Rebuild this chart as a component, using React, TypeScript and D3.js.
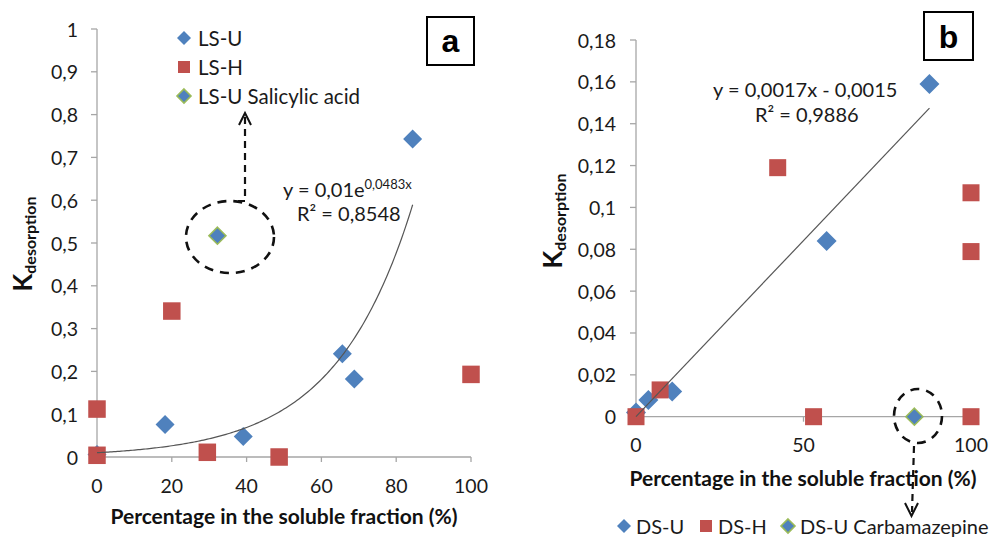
import React from "react";
import * as d3 from "d3";

// ---------- data ----------
const lsU = [
  { x: 0, y: 0.006 },
  { x: 18.2, y: 0.076 },
  { x: 39.1, y: 0.048 },
  { x: 65.6, y: 0.241 },
  { x: 68.8, y: 0.182 },
  { x: 84.4, y: 0.743 },
];
const lsH = [
  { x: 0, y: 0.112 },
  { x: 0, y: 0.004 },
  { x: 20, y: 0.341 },
  { x: 29.5, y: 0.011 },
  { x: 48.7, y: 0 },
  { x: 100, y: 0.193 },
];
const lsUSalicylic = [{ x: 32.2, y: 0.517 }];
const trendA = { a: 0.01, b: 0.0483, xMin: 0, xMax: 84.4 };

const dsU = [
  { x: 0, y: 0.002 },
  { x: 3.7, y: 0.008 },
  { x: 10.8, y: 0.012 },
  { x: 56.9, y: 0.084 },
  { x: 87.6, y: 0.159 },
];
const dsH = [
  { x: 0, y: 0 },
  { x: 7.2, y: 0.0128 },
  { x: 42.3, y: 0.119 },
  { x: 53, y: 0 },
  { x: 100, y: 0.107 },
  { x: 100, y: 0.0789 },
  { x: 100, y: 0 },
];
const dsUCarbamazepine = [{ x: 83.1, y: 0 }];
const trendB = { m: 0.0017, c: -0.0015, xMin: 0, xMax: 87.6 };

const yTicksA = [0, 0.1, 0.2, 0.3, 0.4, 0.5, 0.6, 0.7, 0.8, 0.9, 1];
const xTicksA = [0, 20, 40, 60, 80, 100];
const yTicksB = [0, 0.02, 0.04, 0.06, 0.08, 0.1, 0.12, 0.14, 0.16, 0.18];
const xTicksB = [0, 50, 100];

const legendA = ["LS-U", "LS-H", "LS-U Salicylic acid"];
const legendB = ["DS-U", "DS-H", "DS-U Carbamazepine"];

// ---------- style ----------
const BLUE = "#4F81BD";
const RED = "#C0504D";
const GREEN = "#9BBB59";
const AXIS = "#a6a6a6";
const FONT = "Lato, 'Open Sans', sans-serif";

const fmt = (v: number) => String(+v.toFixed(2)).replace(".", ",");

const Diamond = ({ cx, cy, r, stroke }: { cx: number; cy: number; r: number; stroke?: string }) => (
  <path
    d={`M${cx},${cy - r}L${cx + r},${cy}L${cx},${cy + r}L${cx - r},${cy}Z`}
    fill={BLUE}
    stroke={stroke || "none"}
    strokeWidth={stroke ? 1.6 : 0}
  />
);
const Square = ({ cx, cy, s }: { cx: number; cy: number; s: number }) => (
  <rect x={cx - s / 2} y={cy - s / 2} width={s} height={s} fill={RED} />
);

export default function App() {
  const xA = d3.scaleLinear().domain([0, 100]).range([97, 471]);
  const yA = d3.scaleLinear().domain([0, 1]).range([457, 29]);
  const xB = d3.scaleLinear().domain([0, 100]).range([636, 971]);
  const yB = d3.scaleLinear().domain([0, 0.18]).range([416.7, 40]);

  const trendAPts = d3.range(trendA.xMin, trendA.xMax + 0.001, 0.5).map((x) => [x, trendA.a * Math.exp(trendA.b * x)] as [number, number]);
  if (trendAPts[trendAPts.length - 1][0] < trendA.xMax) trendAPts.push([trendA.xMax, trendA.a * Math.exp(trendA.b * trendA.xMax)]);
  const lineA = d3.line<[number, number]>().x((d) => xA(d[0])).y((d) => yA(d[1]));

  const trendBPts: [number, number][] = [
    [trendB.xMin, Math.max(0, trendB.m * trendB.xMin + trendB.c)],
    [trendB.xMax, trendB.m * trendB.xMax + trendB.c],
  ];
  const lineB = d3.line<[number, number]>().x((d) => xB(d[0])).y((d) => yB(d[1]));

  return (
    <svg width={990} height={537} style={{ position: "absolute", left: 0, top: 0, background: "#fff" }} fontFamily={FONT}>
      <rect width={990} height={537} fill="#fff" />

      {/* ================= Panel a ================= */}
      <g>
        <line x1={xA(0)} x2={xA(0)} y1={yA(0)} y2={yA(1)} stroke={AXIS} strokeWidth={1.3} />
        <line x1={xA(0)} x2={xA(100)} y1={yA(0)} y2={yA(0)} stroke={AXIS} strokeWidth={1.3} />
        {yTicksA.map((t) => (
          <g key={t}>
            <line x1={xA(0) - 6} x2={xA(0)} y1={yA(t)} y2={yA(t)} stroke={AXIS} strokeWidth={1.3} />
            <text x={xA(0) - 19} y={yA(t)} textAnchor="end" dominantBaseline="central" fontSize={19.5} fill="#1a1a1a">
              {fmt(t)}
            </text>
          </g>
        ))}
        {xTicksA.map((t) => (
          <g key={t}>
            <line x1={xA(t)} x2={xA(t)} y1={yA(0)} y2={yA(0) + 5} stroke={AXIS} strokeWidth={1.3} />
            <text x={xA(t)} y={493} textAnchor="middle" fontSize={19.5} fill="#1a1a1a">
              {t}
            </text>
          </g>
        ))}
        <text x={284} y={524} textAnchor="middle" fontSize={21} fontWeight="bold" fill="#111">
          Percentage in the soluble fraction (%)
        </text>
        <text transform={`translate(32,244) rotate(-90)`} textAnchor="middle" fontWeight="bold" fill="#111">
          <tspan fontSize={26}>K</tspan>
          <tspan fontSize={16} dy={4}>desorption</tspan>
        </text>

        {/* dashed callout */}
        <ellipse cx={230} cy={237} rx={44} ry={36} fill="none" stroke="#111" strokeWidth={2.6} strokeDasharray="9 7" />
        <path d="M238,201 L245,201 L245,116" fill="none" stroke="#111" strokeWidth={2.2} strokeDasharray="7 5" />
        <path d="M239,125 L245,113 L251,125" fill="none" stroke="#111" strokeWidth={2} />

        {lsU.map((d, i) => (
          <Diamond key={i} cx={xA(d.x)} cy={yA(d.y)} r={9.5} />
        ))}
        {lsH.map((d, i) => (
          <Square key={i} cx={xA(d.x)} cy={yA(d.y)} s={17.5} />
        ))}
        {lsUSalicylic.map((d, i) => (
          <Diamond key={i} cx={xA(d.x)} cy={yA(d.y)} r={8.5} stroke={GREEN} />
        ))}
        <path d={lineA(trendAPts) || ""} fill="none" stroke="#555" strokeWidth={1.2} />

        <text x={283} y={197} fontSize={20} fill="#1a1a1a">
          y = 0,01e<tspan fontSize={13} dy={-8}>0,0483x</tspan>
        </text>
        <text x={297} y={221} fontSize={20} fill="#1a1a1a">R² = 0,8548</text>

        {/* legend */}
        {legendA.map((name, i) => {
          const cy = 38 + i * 29;
          return (
            <g key={name}>
              {i === 1 ? (
                <Square cx={184} cy={cy} s={12} />
              ) : (
                <Diamond cx={184} cy={cy} r={7} stroke={i === 2 ? GREEN : undefined} />
              )}
              <text x={198} y={cy} dominantBaseline="central" fontSize={20.5} fill="#1a1a1a">
                {name}
              </text>
            </g>
          );
        })}

        <rect x={427} y={17} width={47} height={48} fill="#fff" stroke="#000" strokeWidth={2} />
        <text x={450.5} y={52} textAnchor="middle" fontSize={32} fontWeight="bold" fontFamily="'Liberation Sans', Arial, sans-serif">
          a
        </text>
      </g>

      {/* ================= Panel b ================= */}
      <g>
        <line x1={xB(0)} x2={xB(0)} y1={yB(0)} y2={yB(0.18)} stroke={AXIS} strokeWidth={1.3} />
        <line x1={xB(0)} x2={xB(100)} y1={yB(0)} y2={yB(0)} stroke={AXIS} strokeWidth={1.3} />
        {yTicksB.map((t) => (
          <g key={t}>
            <line x1={xB(0) - 6} x2={xB(0)} y1={yB(t)} y2={yB(t)} stroke={AXIS} strokeWidth={1.3} />
            <text x={xB(0) - 20} y={yB(t)} textAnchor="end" dominantBaseline="central" fontSize={19.5} fill="#1a1a1a">
              {fmt(t)}
            </text>
          </g>
        ))}
        {xTicksB.map((t) => (
          <g key={t}>
            <line x1={xB(t)} x2={xB(t)} y1={yB(0)} y2={yB(0) + 5} stroke={AXIS} strokeWidth={1.3} />
            <text x={xB(t)} y={452} textAnchor="middle" fontSize={19.5} fill="#1a1a1a">
              {t}
            </text>
          </g>
        ))}
        <text x={803} y={486} textAnchor="middle" fontSize={21} fontWeight="bold" fill="#111">
          Percentage in the soluble fraction (%)
        </text>
        <text transform={`translate(562,221) rotate(-90)`} textAnchor="middle" fontWeight="bold" fill="#111">
          <tspan fontSize={26}>K</tspan>
          <tspan fontSize={16} dy={4}>desorption</tspan>
        </text>

        <ellipse cx={918} cy={416} rx={24} ry={27} fill="none" stroke="#111" strokeWidth={2.6} strokeDasharray="9 7" />
        <path d="M914,446 L912,512" fill="none" stroke="#111" strokeWidth={2.2} strokeDasharray="7 5" />
        <path d="M905,503 L911.5,516 L918,503" fill="none" stroke="#111" strokeWidth={2} />

        {dsU.map((d, i) => (
          <Diamond key={i} cx={xB(d.x)} cy={yB(d.y)} r={10} />
        ))}
        {dsH.map((d, i) => (
          <Square key={i} cx={xB(d.x)} cy={yB(d.y)} s={17} />
        ))}
        {dsUCarbamazepine.map((d, i) => (
          <Diamond key={i} cx={xB(d.x)} cy={yB(d.y)} r={8.5} stroke={GREEN} />
        ))}
        <path d={lineB(trendBPts) || ""} fill="none" stroke="#555" strokeWidth={1.2} />

        <text x={713} y={97} fontSize={20} fill="#1a1a1a">y = 0,0017x - 0,0015</text>
        <text x={755} y={122} fontSize={20} fill="#1a1a1a">R² = 0,9886</text>

        {/* legend */}
        {legendB.map((name, i) => {
          const mx = [624, 706, 788][i];
          return (
            <g key={name}>
              {i === 1 ? (
                <Square cx={mx} cy={526} s={12} />
              ) : (
                <Diamond cx={mx} cy={526} r={7} stroke={i === 2 ? GREEN : undefined} />
              )}
              <text x={mx + 12} y={526} dominantBaseline="central" fontSize={20} fill="#1a1a1a">
                {name}
              </text>
            </g>
          );
        })}

        <rect x={924} y={12} width={49} height={48} fill="#fff" stroke="#000" strokeWidth={2} />
        <text x={948.5} y={48} textAnchor="middle" fontSize={32} fontWeight="bold" fontFamily="'Liberation Sans', Arial, sans-serif">
          b
        </text>
      </g>
    </svg>
  );
}
